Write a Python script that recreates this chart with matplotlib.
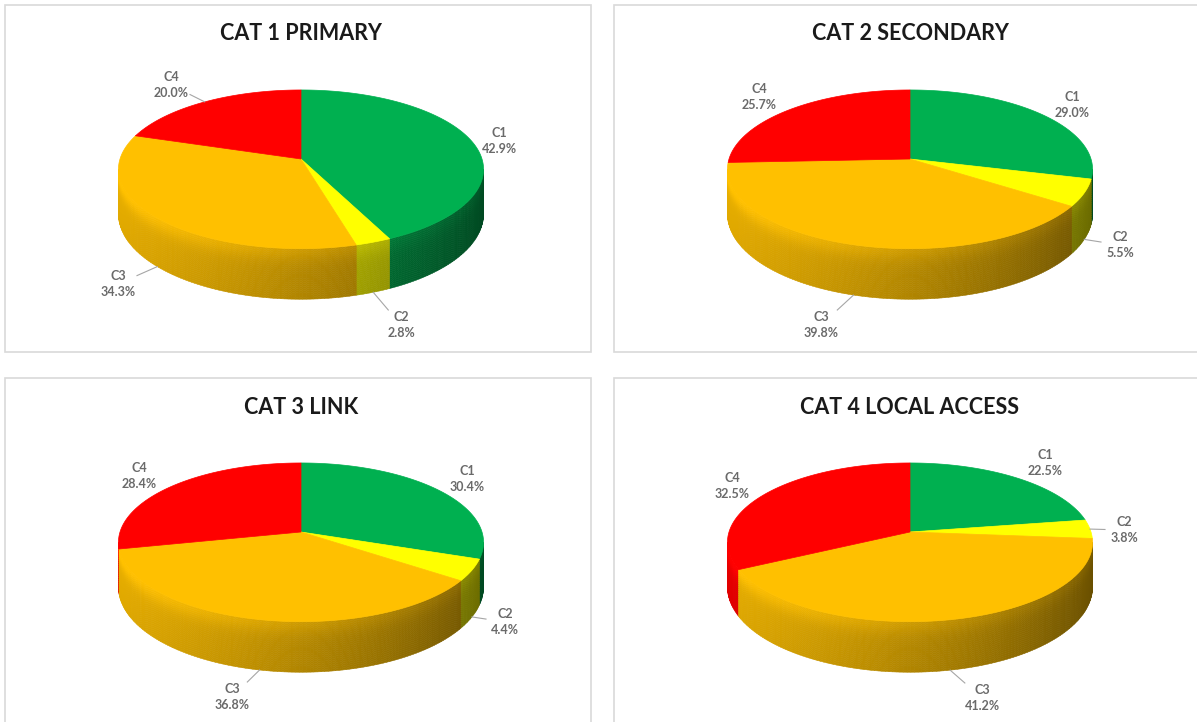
import numpy as np
import matplotlib.pyplot as plt
from matplotlib.collections import PolyCollection
from matplotlib.patches import Rectangle, Polygon
from matplotlib.colors import to_rgb

plt.rcParams['font.family'] = ['Lato', 'DejaVu Sans']

# ---------- data ----------
categories = ["C1", "C2", "C3", "C4"]
titles = ["CAT 1 PRIMARY", "CAT 2 SECONDARY", "CAT 3 LINK", "CAT 4 LOCAL ACCESS"]
cat1_primary = [42.9, 2.8, 34.3, 20.0]
cat2_secondary = [29.0, 5.5, 39.8, 25.7]
cat3_link = [30.4, 4.4, 36.8, 28.4]
cat4_local_access = [22.5, 3.8, 41.2, 32.5]
series = [cat1_primary, cat2_secondary, cat3_link, cat4_local_access]

slice_colors = ["#00B050", "#FFFF00", "#FFC000", "#FF0000"]

# ---------- layout (pixels) ----------
W, H = 1197, 722
panel_boxes = [(5, 5, 586, 347), (614, 5, 600, 347),
               (5, 378, 586, 360), (614, 378, 600, 360)]
PIE_OFF = (296, 154)   # pie centre inside a panel
RX, RY = 181, 78       # top ellipse radii
DEPTH = 44             # thickness of the disc
PERSP = 0.13           # far side shrinks a little

# label centres relative to the pie centre, and which ones get a leader line
label_offsets = [
    [(198, -18), (100, 166), (-183, 125), (-130, -74)],
    [(162, -54), (210, 86), (-89, 166), (-151, -62)],
    [(166, -53), (204, 90), (-69, 165), (-162, -56)],
    [(135, -69), (214, -2), (72, 166), (-178, -46)],
]
leaders = [[False, True, True, True],
           [False, True, True, False],
           [False, True, True, False],
           [False, True, True, False]]


def proj(cx, cy, phi, h):
    u, v = np.cos(phi), np.sin(phi)
    s = 1 + PERSP * v
    return cx + RX * u / s, cy + (-RY * v + DEPTH * h) / s


def side_shade(u, h):
    # darker towards the right, soft bevel highlight just under the rim
    horiz = 0.72 - 0.25 * u - 0.05 * u ** 2
    vert = 1 + 0.12 * np.exp(-(h / 0.25) ** 2) - 0.04 * h
    return horiz * vert


def draw_pie(ax, cx, cy, values, offsets, leader_flags):
    fr = np.array(values) / np.sum(values)
    cum = np.concatenate([[0], np.cumsum(fr)])
    starts = np.radians(90 - 360 * cum[:-1])
    ends = np.radians(90 - 360 * cum[1:])

    # side wall: only between the two silhouette points of the front
    sil = np.arcsin(PERSP)
    quads, cols, depth_key = [], [], []
    hs = np.linspace(0, 1, 25)
    for i in range(len(values)):
        lo = max(ends[i], -np.pi + sil)
        hi = min(starts[i], -sil)
        if hi <= lo:
            continue
        n = max(int(np.degrees(hi - lo)), 2)
        phis = np.linspace(lo, hi, n + 1)
        base = np.array(to_rgb(slice_colors[i]))
        for a0, a1 in zip(phis[:-1], phis[1:]):
            am = 0.5 * (a0 + a1)
            for h0, h1 in zip(hs[:-1], hs[1:]):
                quads.append([proj(cx, cy, a0, h0), proj(cx, cy, a1, h0),
                              proj(cx, cy, a1, h1), proj(cx, cy, a0, h1)])
                cols.append(np.clip(base * side_shade(np.cos(am), 0.5 * (h0 + h1)), 0, 1))
                depth_key.append(np.sin(am))
    order = np.argsort(-np.array(depth_key), kind='stable')
    quads = [quads[j] for j in order]
    cols = [cols[j] for j in order]
    ax.add_collection(PolyCollection(quads, facecolors=cols, edgecolors=cols, linewidths=0.4))

    # top faces
    for i in range(len(values)):
        phis = np.linspace(starts[i], ends[i], 200)
        xs, ys = proj(cx, cy, phis, 0)
        pts = np.column_stack([np.r_[cx, xs], np.r_[cy, ys]])
        ax.add_patch(Polygon(pts, closed=True, facecolor=slice_colors[i],
                             edgecolor=slice_colors[i], linewidth=0.5))

    # labels
    for i in range(len(values)):
        lx, ly = cx + offsets[i][0], cy + offsets[i][1]
        ax.text(lx, ly, f"{categories[i]}\n{values[i]:.1f}%", ha='center', va='center',
                fontsize=9, fontweight='bold', color='#6A6A6A', linespacing=1.4)
        if leader_flags[i]:
            mid = 0.5 * (starts[i] + ends[i])
            h = 1 if np.sin(mid) < 0 else 0
            axx, ayy = proj(cx, cy, mid, h)
            dx, dy = axx - lx, ayy - ly
            t = min(19 / max(abs(dx), 1e-6), 15 / max(abs(dy), 1e-6))
            ex, ey = lx + t * dx, ly + t * dy
            ax.plot([axx, ex], [ayy, ey], color='#A6A6A6', lw=0.8)


fig = plt.figure(figsize=(W / 100, H / 100), dpi=100)
ax = fig.add_axes([0, 0, 1, 1])
ax.set_xlim(0, W)
ax.set_ylim(H, 0)
ax.axis('off')

for k, (x0, y0, w, h) in enumerate(panel_boxes):
    ax.add_patch(Rectangle((x0, y0), w, h, facecolor='white', edgecolor='#D9D9D9', lw=1.2))
    cx, cy = x0 + PIE_OFF[0], y0 + PIE_OFF[1]
    ax.text(cx, y0 + 29, titles[k], ha='center', va='center', fontsize=15.5,
            fontweight='bold', color='#1A1A1A')
    draw_pie(ax, cx, cy, series[k], label_offsets[k], leaders[k])

fig.savefig('out.png', dpi=100)
